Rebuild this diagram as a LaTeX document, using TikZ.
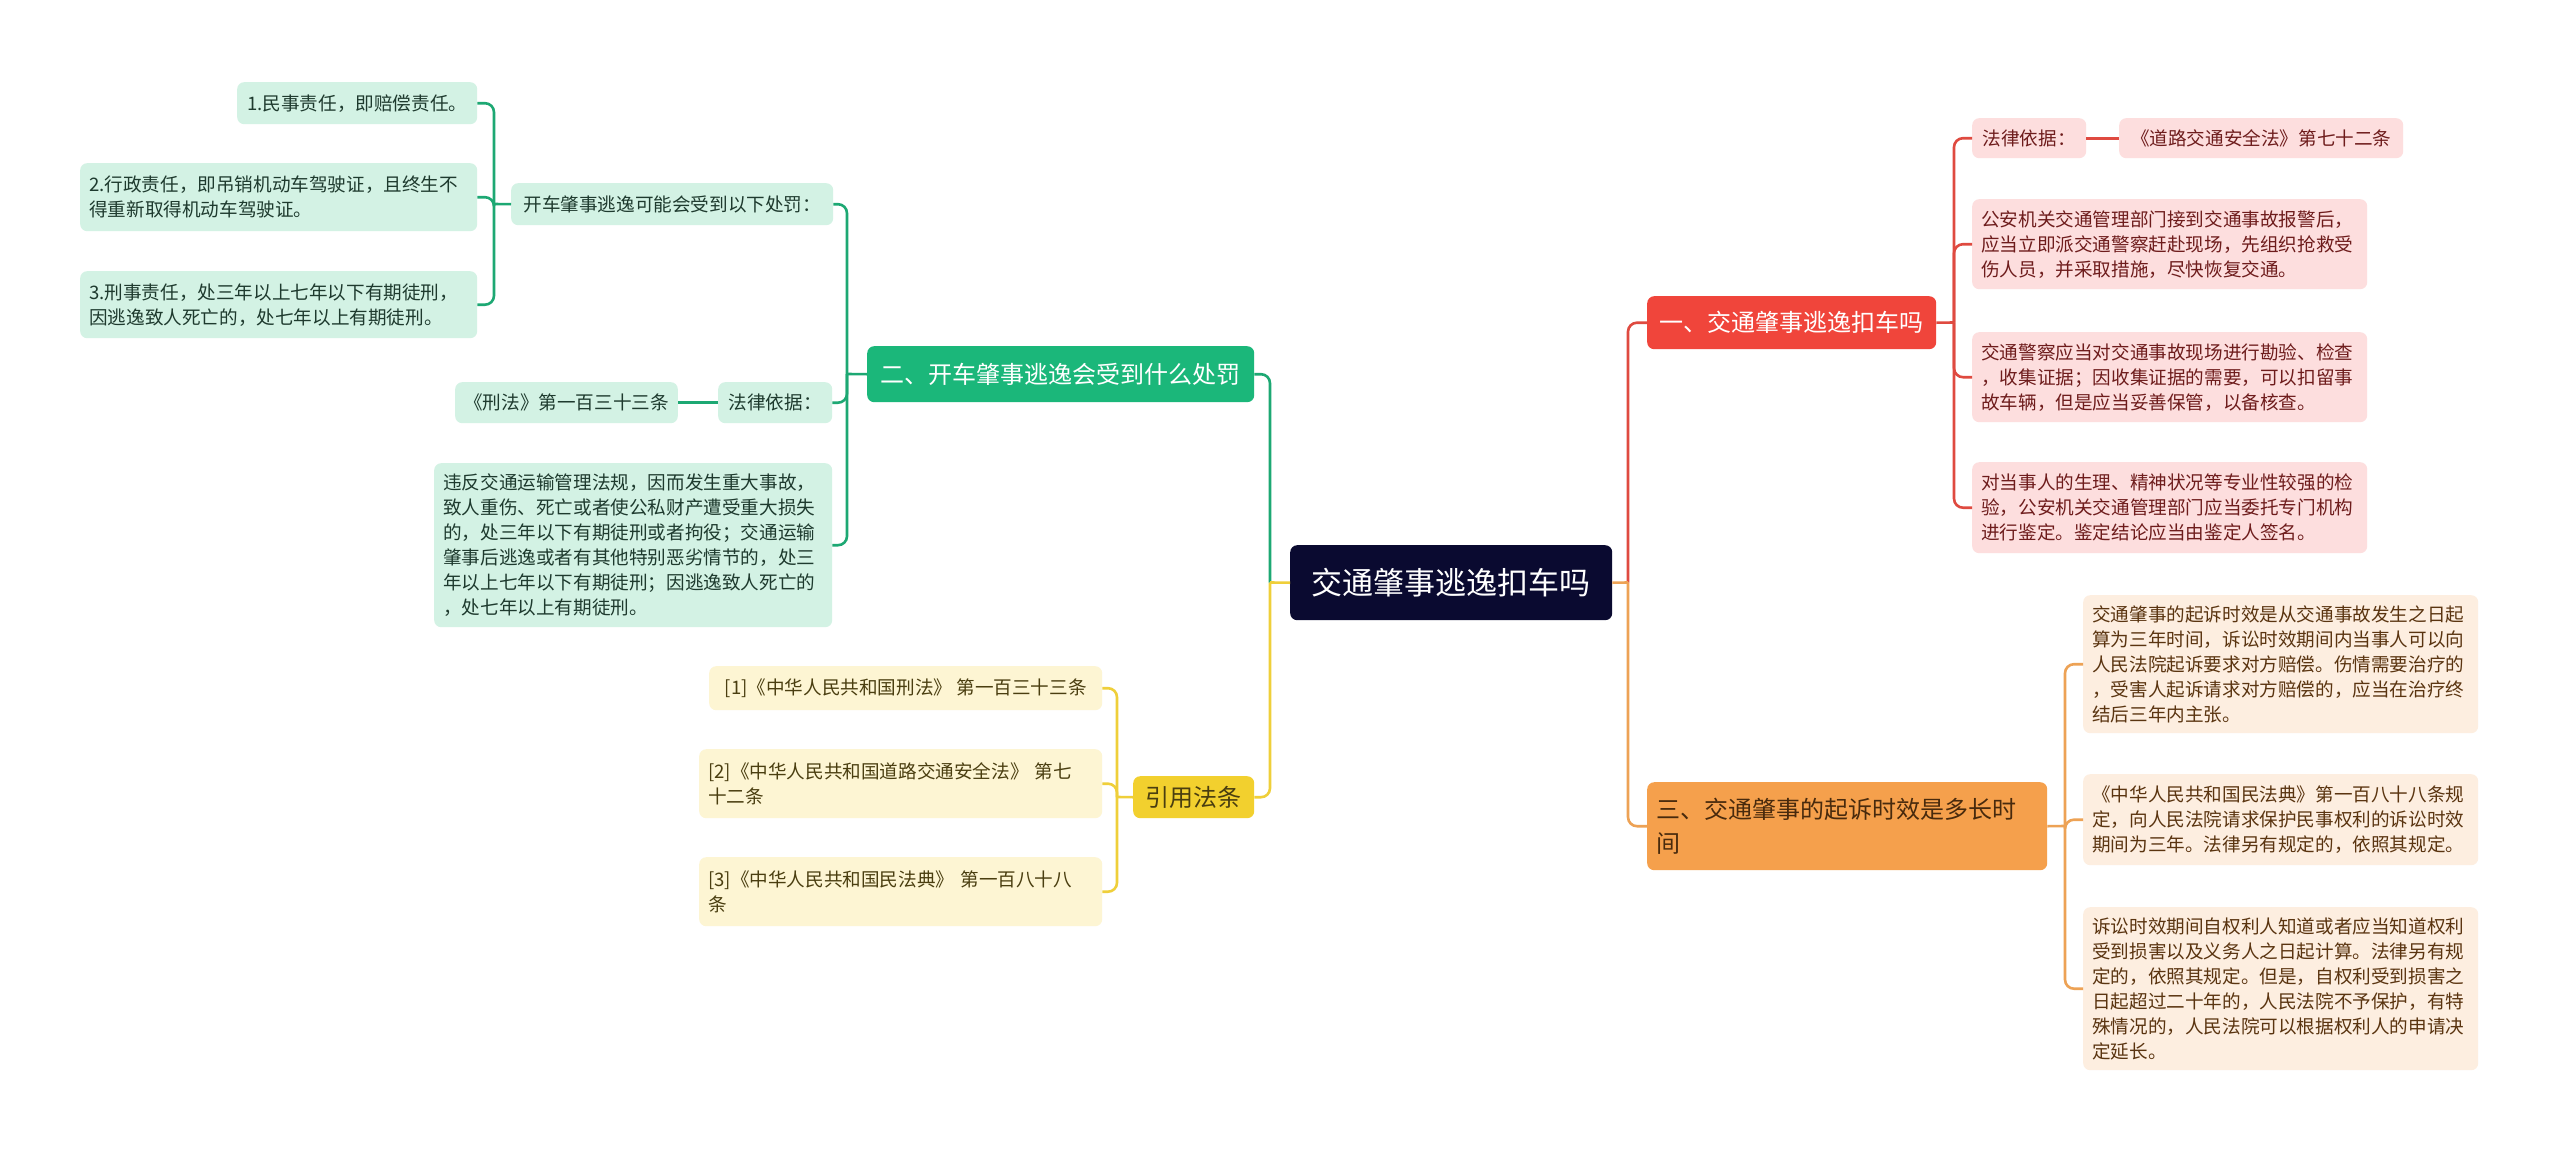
\documentclass[tikz,border=0pt]{standalone}
\usepackage{fontspec}
\setmainfont{Noto Sans CJK SC}
\definecolor{rootfill}{HTML}{0A0A30}
\definecolor{gfill}{HTML}{1BB77A}
\definecolor{gline}{HTML}{1DA873}
\definecolor{gleaf}{HTML}{D3F2E4}
\definecolor{gtext}{HTML}{1E3A2E}
\definecolor{rfill}{HTML}{F0453B}
\definecolor{rline}{HTML}{DF4A40}
\definecolor{rleaf}{HTML}{FDDEDE}
\definecolor{rtext}{HTML}{6E1C1C}
\definecolor{yfill}{HTML}{F2D02E}
\definecolor{yline}{HTML}{EFCF3A}
\definecolor{yleaf}{HTML}{FDF5D3}
\definecolor{ytext}{HTML}{4A3E10}
\definecolor{ofill}{HTML}{F5A04C}
\definecolor{oline}{HTML}{EDA255}
\definecolor{oleaf}{HTML}{FDEEE0}
\definecolor{otext}{HTML}{5A3410}
\tikzset{
  box/.style={rounded corners=7pt, inner xsep=9pt, inner ysep=0pt, anchor=north west, align=left},
  sm/.style={font=\fontsize{18.6pt}{25pt}\selectfont},
  big/.style={font=\fontsize{24pt}{34pt}\selectfont},
  gbox/.style={box, sm, fill=gleaf, text=gtext},
  rbox/.style={box, sm, fill=rleaf, text=rtext},
  ybox/.style={box, sm, fill=yleaf, text=ytext},
  obox/.style={box, sm, fill=oleaf, text=otext},
  conn/.style={line width=2.6pt, rounded corners=9pt},
  gl/.style={conn, draw=gline},
  rl/.style={conn, draw=rline},
  yl/.style={conn, draw=yline},
  ol/.style={conn, draw=oline},
}
\begin{document}
\begin{tikzpicture}[x=1pt,y=-1pt]
\useasboundingbox[fill=white] (0,0) rectangle (2560,1151);

% trunk coordinates
\coordinate (tL) at (1270,582.5);
\coordinate (tR) at (1628,582.5);
\coordinate (tG) at (847,374);
\coordinate (tP) at (494,204);
\coordinate (tY) at (1117,797);
\coordinate (tRd) at (1954,322.5);
\coordinate (tO) at (2065,826);

% root
\node[box, anchor=north west, fill=rootfill, text=white, font=\fontsize{31pt}{36pt}\selectfont,
  minimum width=322pt, minimum height=75pt, align=center] (root) at (1290,545) {交通肇事逃逸扣车吗};

% level 1
\node[box, big, fill=gfill, text=white, minimum width=387pt, minimum height=56pt] (n2) at (867,346) {二、开车肇事逃逸会受到什么处罚};
\node[box, big, fill=yfill, text=ytext, minimum width=121pt, minimum height=42pt, align=center] (ny) at (1133,776) {引用法条};
\node[box, big, fill=rfill, text=white, minimum width=289pt, minimum height=53pt] (n1) at (1647,296) {一、交通肇事逃逸扣车吗};
\node[box, big, fill=ofill, text=otext!80!black, text width=382pt, minimum height=88pt] (n3) at (1647,782) {三、交通肇事的起诉时效是多长时\\间};

% green branch
\node[gbox, minimum width=322pt, minimum height=42pt] (p2a) at (511,183) {开车肇事逃逸可能会受到以下处罚：};
\node[gbox, minimum width=240pt, minimum height=42pt] (b1) at (237,82) {1.民事责任，即赔偿责任。};
\node[gbox, text width=379pt, minimum height=68pt] (b2) at (80,163) {2.行政责任，即吊销机动车驾驶证，且终生不\\得重新取得机动车驾驶证。};
\node[gbox, text width=379pt, minimum height=67pt] (b3) at (80,271) {3.刑事责任，处三年以上七年以下有期徒刑，\\因逃逸致人死亡的，处七年以上有期徒刑。};
\node[gbox, minimum width=114pt, minimum height=41pt] (glaw) at (718,382) {法律依据：};
\node[gbox, minimum width=218pt, minimum height=41pt] (gxf) at (455,382) {《刑法》第一百三十三条};
\node[gbox, text width=380pt, minimum height=164pt] (gbig) at (434,463) {违反交通运输管理法规，因而发生重大事故，\\致人重伤、死亡或者使公私财产遭受重大损失\\的，处三年以下有期徒刑或者拘役；交通运输\\肇事后逃逸或者有其他特别恶劣情节的，处三\\年以上七年以下有期徒刑；因逃逸致人死亡的\\，处七年以上有期徒刑。};

% yellow branch
\node[ybox, minimum width=393pt, minimum height=44pt] (y1) at (709,666) {[1]《中华人民共和国刑法》 第一百三十三条};
\node[ybox, text width=385pt, minimum height=69pt] (y2) at (699,749) {[2]《中华人民共和国道路交通安全法》 第七\\十二条};
\node[ybox, text width=385pt, minimum height=69pt] (y3) at (699,857) {[3]《中华人民共和国民法典》 第一百八十八\\条};

% red branch
\node[rbox, minimum width=114pt, minimum height=40pt] (rlaw) at (1972,118) {法律依据：};
\node[rbox, minimum width=284pt, minimum height=40pt] (rdl) at (2119,118) {《道路交通安全法》第七十二条};
\node[rbox, text width=377pt, minimum height=90pt] (r1) at (1972,199) {公安机关交通管理部门接到交通事故报警后，\\应当立即派交通警察赶赴现场，先组织抢救受\\伤人员，并采取措施，尽快恢复交通。};
\node[rbox, text width=377pt, minimum height=90pt] (r2) at (1972,332) {交通警察应当对交通事故现场进行勘验、检查\\，收集证据；因收集证据的需要，可以扣留事\\故车辆，但是应当妥善保管，以备核查。};
\node[rbox, text width=377pt, minimum height=91pt] (r3) at (1972,462) {对当事人的生理、精神状况等专业性较强的检\\验，公安机关交通管理部门应当委托专门机构\\进行鉴定。鉴定结论应当由鉴定人签名。};

% orange branch
\node[obox, text width=377pt, minimum height=138pt] (o1) at (2083,595) {交通肇事的起诉时效是从交通事故发生之日起\\算为三年时间，诉讼时效期间内当事人可以向\\人民法院起诉要求对方赔偿。伤情需要治疗的\\，受害人起诉请求对方赔偿的，应当在治疗终\\结后三年内主张。};
\node[obox, text width=377pt, minimum height=91pt] (o2) at (2083,774) {《中华人民共和国民法典》第一百八十八条规\\定，向人民法院请求保护民事权利的诉讼时效\\期间为三年。法律另有规定的，依照其规定。};
\node[obox, text width=377pt, minimum height=163pt] (o3) at (2083,907) {诉讼时效期间自权利人知道或者应当知道权利\\受到损害以及义务人之日起计算。法律另有规\\定的，依照其规定。但是，自权利受到损害之\\日起超过二十年的，人民法院不予保护，有特\\殊情况的，人民法院可以根据权利人的申请决\\定延长。};

% connectors (behind nodes)
\begin{scope}[on background layer/.try]
\end{scope}
\draw[gl] (n2.east) -| (tL);
\draw[yl] (ny.east) -| (tL);
\draw[yl] (root.west) -- (tL);
\draw[rl] (n1.west) -| (tR);
\draw[ol] (n3.west) -| (tR);
\draw[ol] (root.east) -- (tR);

\draw[gl] (n2.west) -- (tG);
\draw[gl] (p2a.east) -| (tG);
\draw[gl] (glaw.east) -| (tG);
\draw[gl] (gbig.east) -| (tG);
\draw[gl] (glaw.west) -- (gxf.east);

\draw[gl] (p2a.west) -- (tP);
\draw[gl] (b1.east) -| (tP);
\draw[gl] (b2.east) -| (tP);
\draw[gl] (b3.east) -| (tP);

\draw[yl] (ny.west) -- (tY);
\draw[yl] (y1.east) -| (tY);
\draw[yl] (y2.east) -| (tY);
\draw[yl] (y3.east) -| (tY);

\draw[rl] (n1.east) -- (tRd);
\draw[rl] (rlaw.west) -| (tRd);
\draw[rl] (r1.west) -| (tRd);
\draw[rl] (r2.west) -| (tRd);
\draw[rl] (r3.west) -| (tRd);
\draw[rl] (rlaw.east) -- (rdl.west);

\draw[ol] (n3.east) -- (tO);
\draw[ol] (o1.west) -| (tO);
\draw[ol] (o2.west) -| (tO);
\draw[ol] (o3.west) -| (tO);
\end{tikzpicture}
\end{document}
